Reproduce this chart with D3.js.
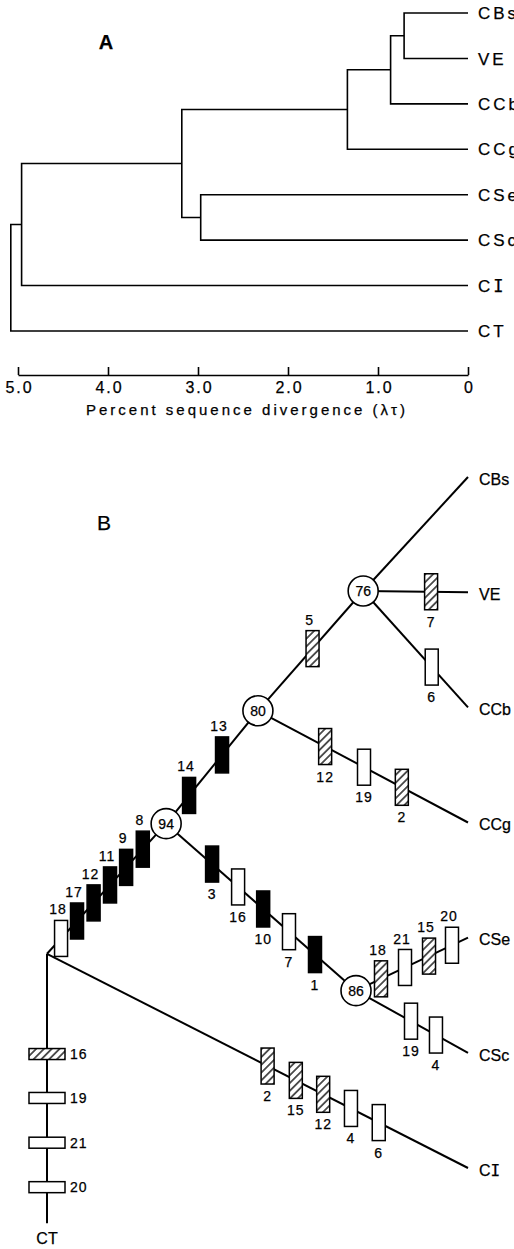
<!DOCTYPE html>
<html>
<head>
<meta charset="utf-8">
<script src="https://cdn.jsdelivr.net/npm/d3@7"></script>
<style>
  body { margin: 0; background: #fff; }
  svg { display: block; }
  text { stroke: #000; stroke-width: 0.25px; }
</style>
</head>
<body>
<div id="chart"></div>
<script>
// panel A: distance tree
const taxaA = ["CBs", "VE", "CCb", "CCg", "CSe", "CSc", "CI", "CT"];
const joins = [
    { id: "a1", left: "CBs", right: "VE", divergence: 0.71 },
    { id: "a2", left: "a1", right: "CCb", divergence: 0.86 },
    { id: "a3", left: "a2", right: "CCg", divergence: 1.34 },
    { id: "a4", left: "CSe", right: "CSc", divergence: 2.97 },
    { id: "a5", left: "a3", right: "a4", divergence: 3.18 },
    { id: "a6", left: "a5", right: "CI", divergence: 4.96 },
    { id: "a7", left: "a6", right: "CT", divergence: 5.08 },
];
const divergenceTicks = [5, 4, 3, 2, 1, 0];
const axisTitle = "Percent sequence divergence (\u03bb\u03c4)";

// panel B: character tree (x in steps 0-100, row = leaf row)
const taxaB = ["CBs", "VE", "CCb", "CCg", "CSe", "CSc", "CI"];
const innerNodes = [
    { id: "root", x: 0, row: 4.14 },
    { id: "n94", x: 28.3, row: 3.01, support: 94 },
    { id: "n80", x: 50.1, row: 2.03, support: 80 },
    { id: "n76", x: 75.1, row: 0.99, support: 76 },
    { id: "n86", x: 73.4, row: 4.46, support: 86 },
    { id: "CT", x: 0, row: 6.48 },
];
const branches = [
    ["root", "n94"], ["n94", "n80"], ["n80", "n76"], ["n76", "CBs"],
    ["n76", "VE"], ["n76", "CCb"], ["n80", "CCg"], ["n94", "n86"],
    ["n86", "CSe"], ["n86", "CSc"], ["root", "CI"], ["root", "CT"],
];
// [branch parent, branch child, site, kind, fraction along branch]
const changes = [
    ["root", "n94", 18, "open", 0.118],
    ["root", "n94", 17, "black", 0.252],
    ["root", "n94", 12, "black", 0.391],
    ["root", "n94", 11, "black", 0.529],
    ["root", "n94", 9, "black", 0.664],
    ["root", "n94", 8, "black", 0.804],
    ["n94", "n80", 14, "black", 0.25],
    ["n94", "n80", 13, "black", 0.609],
    ["n80", "n76", 5, "hatch", 0.519],
    ["n76", "VE", 7, "hatch", 0.648],
    ["n76", "CCb", 6, "open", 0.654],
    ["n80", "CCg", 12, "hatch", 0.32],
    ["n80", "CCg", 19, "open", 0.505],
    ["n80", "CCg", 2, "hatch", 0.685],
    ["n94", "n86", 3, "black", 0.242],
    ["n94", "n86", 16, "open", 0.379],
    ["n94", "n86", 10, "black", 0.511],
    ["n94", "n86", 7, "open", 0.647],
    ["n94", "n86", 1, "black", 0.784],
    ["n86", "CSe", 18, "hatch", 0.223],
    ["n86", "CSe", 21, "open", 0.4375],
    ["n86", "CSe", 15, "hatch", 0.652],
    ["n86", "CSe", 20, "open", 0.857],
    ["n86", "CSc", 19, "open", 0.491],
    ["n86", "CSc", 4, "open", 0.714],
    ["root", "CI", 2, "hatch", 0.524],
    ["root", "CI", 15, "hatch", 0.591],
    ["root", "CI", 12, "hatch", 0.656],
    ["root", "CI", 4, "open", 0.722],
    ["root", "CI", 6, "open", 0.788],
    ["root", "CT", 16, "hatch", 0.372],
    ["root", "CT", 19, "open", 0.535],
    ["root", "CT", 21, "open", 0.701],
    ["root", "CT", 20, "open", 0.866],
];

const width = 514,
    height = 1249;
const font = "'Liberation Sans', Arial, Helvetica, sans-serif";

const svg = d3
    .select("#chart")
    .append("svg")
    .attr("width", width)
    .attr("height", height)
    .style("font-family", font);

// the scan sets the I of CI with serifs
const taxonText = (sel) =>
    sel.each(function (d) {
        const t = d3.select(this);
        if (d === "CI") {
            t.append("tspan").text("C");
            t.append("tspan")
                .attr("font-family", "'DejaVu Sans Mono', monospace")
                .text("I");
        } else t.text(d);
    });

const defs = svg.append("defs");
const hatch = defs
    .append("pattern")
    .attr("id", "hatch")
    .attr("patternUnits", "userSpaceOnUse")
    .attr("width", 5.5)
    .attr("height", 5.5)
    .attr("patternTransform", "rotate(45)");
hatch.append("rect").attr("width", 5.5).attr("height", 5.5).attr("fill", "#fff");
hatch
    .append("line")
    .attr("x1", 2.75)
    .attr("y1", 0)
    .attr("x2", 2.75)
    .attr("y2", 5.5)
    .attr("stroke", "#000")
    .attr("stroke-width", 1.3);

// ---------- panel A ----------
const xA = d3.scaleLinear().domain([5, 0]).range([18, 468]);
const yA = d3.scalePoint().domain(taxaA).range([13, 331]);

const gA = svg.append("g");
const posA = new Map(taxaA.map((t) => [t, { x: xA(0), y: yA(t) }]));
joins.forEach((j) => {
    const l = posA.get(j.left),
        r = posA.get(j.right);
    posA.set(j.id, { x: xA(j.divergence), y: (l.y + r.y) / 2 });
});

joins.forEach((j) => {
    const l = posA.get(j.left),
        r = posA.get(j.right),
        n = posA.get(j.id);
    const p = d3.path();
    p.moveTo(l.x, l.y);
    p.lineTo(n.x, l.y);
    p.lineTo(n.x, r.y);
    p.lineTo(r.x, r.y);
    gA.append("path")
        .attr("d", p.toString())
        .attr("fill", "none")
        .attr("stroke", "#000")
        .attr("stroke-width", 1.6);
});

gA.selectAll("text.leafA")
    .data(taxaA)
    .join("text")
    .attr("class", "leafA")
    .attr("x", xA(0) + 10)
    .attr("y", (d) => yA(d))
    .attr("dy", "0.36em")
    .attr("font-size", 17)
    .attr("letter-spacing", 3)
    .call(taxonText);

gA.append("text")
    .attr("x", 106)
    .attr("y", 49)
    .attr("text-anchor", "middle")
    .attr("font-size", 20)
    .attr("font-weight", "bold")
    .text("A");

const axisA = d3
    .axisBottom(xA)
    .tickValues(divergenceTicks)
    .tickSizeInner(-8)
    .tickSizeOuter(0)
    .tickPadding(7)
    .tickFormat((d) => (d === 0 ? "0" : d.toFixed(1)));

const axisG = gA.append("g").attr("transform", "translate(0,375)").call(axisA);
axisG.select(".domain").attr("stroke", "#000").attr("stroke-width", 1.6);
axisG.selectAll(".tick line").attr("stroke", "#000").attr("stroke-width", 1.6);
axisG
    .selectAll(".tick text")
    .attr("fill", "#000")
    .attr("font-family", font)
    .attr("font-size", 16)
    .attr("letter-spacing", 2)
    .attr("dx", 1);

gA.append("text")
    .attr("x", 86)
    .attr("y", 415)
    .attr("font-size", 15)
    .attr("textLength", 319)
    .attr("lengthAdjust", "spacing")
    .text(axisTitle);

// ---------- panel B ----------
const xB = d3.scaleLinear().domain([0, 100]).range([47, 468]);
const yB = d3.scaleLinear().domain([0, 6]).range([477, 1168]);

const nodesB = new Map();
taxaB.forEach((t, i) => nodesB.set(t, { id: t, x: 100, row: i }));
innerNodes.forEach((n) => nodesB.set(n.id, n));
const px = (id) => {
    const n = nodesB.get(id);
    return { x: xB(n.x), y: yB(n.row) };
};

const gB = svg.append("g");

gB.selectAll("line.branch")
    .data(branches)
    .join("line")
    .attr("class", "branch")
    .attr("x1", (d) => px(d[0]).x)
    .attr("y1", (d) => px(d[0]).y)
    .attr("x2", (d) => px(d[1]).x)
    .attr("y2", (d) => px(d[1]).y)
    .attr("stroke", "#000")
    .attr("stroke-width", 2);

const marks = changes.map(([from, to, site, kind, t]) => {
    const a = px(from),
        b = px(to);
    const vertical = a.x === b.x;
    const side = vertical ? "right" : b.y - a.y < 0 ? "above" : "below";
    return {
        site,
        kind,
        side,
        cx: a.x + (b.x - a.x) * t,
        cy: a.y + (b.y - a.y) * t,
        w: vertical ? 36 : 13,
        h: vertical ? 11 : 36,
    };
});

const fills = { open: "#fff", black: "#000", hatch: "url(#hatch)" };

gB.selectAll("rect.change")
    .data(marks)
    .join("rect")
    .attr("class", "change")
    .attr("x", (d) => d.cx - d.w / 2)
    .attr("y", (d) => d.cy - d.h / 2)
    .attr("width", (d) => d.w)
    .attr("height", (d) => d.h)
    .attr("fill", (d) => fills[d.kind])
    .attr("stroke", "#000")
    .attr("stroke-width", 1.5);

gB.selectAll("text.site")
    .data(marks)
    .join("text")
    .attr("class", "site")
    .attr("x", (d) =>
        d.side === "right" ? d.cx + d.w / 2 + 5 : d.side === "above" ? d.cx - 3 : d.cx
    )
    .attr("y", (d) =>
        d.side === "right"
            ? d.cy
            : d.side === "above"
            ? d.cy - d.h / 2 - 11
            : d.cy + d.h / 2 + 12
    )
    .attr("dy", "0.36em")
    .attr("text-anchor", (d) => (d.side === "right" ? "start" : "middle"))
    .attr("font-size", 14)
    .attr("letter-spacing", 1)
    .text((d) => d.site);

const supported = innerNodes.filter((n) => n.support);
const circles = gB
    .selectAll("g.support")
    .data(supported)
    .join("g")
    .attr("class", "support")
    .attr("transform", (d) => `translate(${px(d.id).x},${px(d.id).y})`);
circles
    .append("circle")
    .attr("r", 15)
    .attr("fill", "#fff")
    .attr("stroke", "#000")
    .attr("stroke-width", 1.6);
circles
    .append("text")
    .attr("text-anchor", "middle")
    .attr("dy", "0.36em")
    .attr("font-size", 14)
    .text((d) => d.support);

gB.selectAll("text.leafB")
    .data(taxaB)
    .join("text")
    .attr("class", "leafB")
    .attr("x", xB(100) + 11)
    .attr("y", (d) => px(d).y + 2)
    .attr("dy", "0.36em")
    .attr("font-size", 16)
    .call(taxonText);

gB.append("text")
    .attr("x", px("CT").x)
    .attr("y", px("CT").y + 15)
    .attr("dy", "0.36em")
    .attr("text-anchor", "middle")
    .attr("font-size", 16)
    .text("CT");

gB.append("text")
    .attr("x", 104)
    .attr("y", 530)
    .attr("text-anchor", "middle")
    .attr("font-size", 21)
    .text("B");
</script>
</body>
</html>
